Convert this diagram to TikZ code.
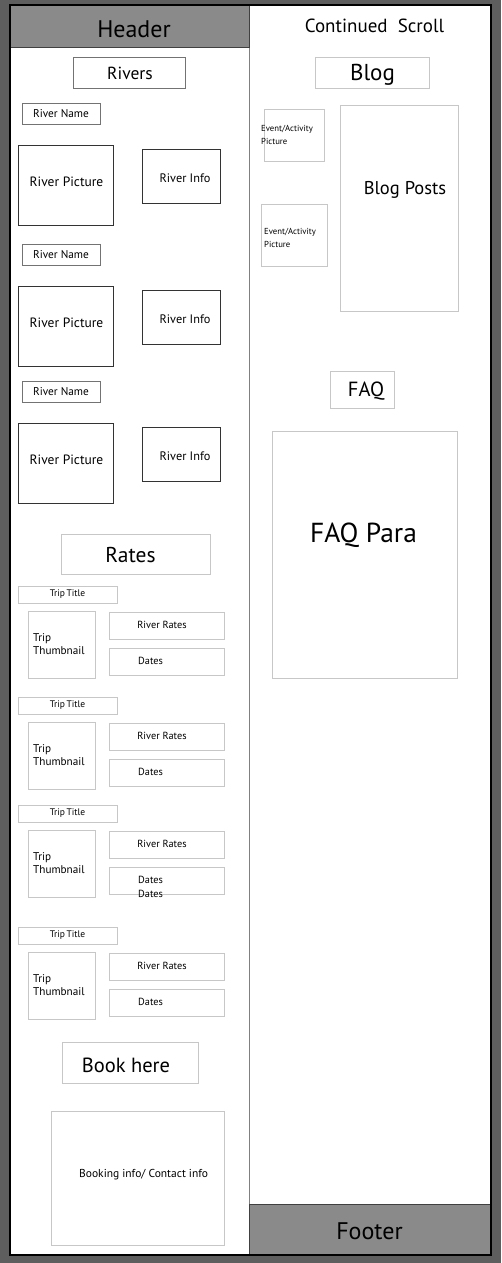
\documentclass[tikz,border=0pt]{standalone}
\usepackage{fontspec}
\setmainfont{PT Sans}
\begin{document}
\begin{tikzpicture}[x=1pt,y=-1pt,
  box/.style={draw, rectangle, inner sep=0pt, fill=white, line width=0.9pt, align=left},
  dk/.style={box, draw=black!80},
  md/.style={box, draw=black!55},
  lt/.style={box, draw=black!22},
  lbl/.style={inner sep=0pt, align=left},
  band/.style={fill=black!46, draw=black!75, line width=1pt},
]
\useasboundingbox (0,0) rectangle (501,1263);
% page background and sheet
\fill[black!63] (0,0) rectangle (501,1263);
\fill[white] (10,5) rectangle (491,1255);
% header and footer bands
\draw[band] (10,5) rectangle (249,48);
\node[lbl, font=\fontsize{24}{28}\selectfont] (header) at (134,29) {Header};
\draw[band] (249,1204) rectangle (491,1255);
\node[lbl, font=\fontsize{24}{28}\selectfont] (footer) at (369.5,1231) {Footer};
% column divider
\draw[black!50, line width=0.8pt] (249,48) -- (249,1204);
\draw[black, line width=1.4pt] (10,5) rectangle (491,1255);

% ---- left column: rivers
\node[md, minimum width=112pt, minimum height=31pt] (rivers) at (129,72.5) {};
\node[lbl, font=\fontsize{17.5}{20}\selectfont] (riverstxt) at (130,73) {Rivers};
\foreach \i/\dy in {1/0, 2/141, 3/278} {
  \node[md, minimum width=78pt, minimum height=21pt, font=\fontsize{11.3}{13}\selectfont] (rname\i) at (61,113.5+\dy) {River Name};
  \node[dk, minimum width=95pt, minimum height=80pt] (rpic\i) at (65.5,185+\dy) {};
  \node[lbl, font=\fontsize{13.5}{16}\selectfont] (rpictxt\i) at (66.5,182+\dy) {River Picture};
  \node[dk, minimum width=78pt, minimum height=54pt] (rinfo\i) at (181,176+\dy) {};
  \node[lbl, font=\fontsize{12.3}{14}\selectfont] (rinfotxt\i) at (185,178+\dy) {River Info};
}

% ---- left column: rates
\node[lt, minimum width=149pt, minimum height=40pt] (rates) at (135.5,554) {};
\node[lbl, font=\fontsize{21.5}{25}\selectfont] (ratestxt) at (130.5,555) {Rates};
\foreach \i/\dy in {1/0, 2/111, 3/219, 4/341} {
  \node[lt, minimum width=99pt, minimum height=17pt, font=\fontsize{9.5}{11}\selectfont] (ttitle\i) at (67.5,594.5+\dy) {Trip\,Title};
  \node[lt, minimum width=67pt, minimum height=67pt] (thumb\i) at (61.5,644.5+\dy) {};
  \node[lbl, anchor=west, font=\fontsize{11.2}{13.5}\selectfont] (thumbtxt\i) at (33,644+\dy) {Trip\\Thumbnail};
  \node[lt, minimum width=115pt, minimum height=27pt] (rrate\i) at (166.5,625.5+\dy) {};
  \node[lbl, font=\fontsize{10.3}{12}\selectfont] (rratetxt\i) at (162,625+\dy) {River Rates};
  \node[lt, minimum width=115pt, minimum height=27pt] (dates\i) at (166.5,661.5+\dy) {};
}
\foreach \i/\dy in {1/0, 2/111, 4/341}
  \node[lbl, anchor=west, font=\fontsize{10.3}{12}\selectfont] (datestxt\i) at (138,661+\dy) {Dates};
\node[lbl, anchor=west, font=\fontsize{10.3}{13.5}\selectfont] (datestxt3) at (138,887) {Dates\\Dates};

% ---- left column: booking
\node[lt, minimum width=136pt, minimum height=41pt] (book) at (130,1062.5) {};
\node[lbl, font=\fontsize{20.5}{24}\selectfont] (booktxt) at (126,1065) {Book here};
\node[lt, minimum width=173pt, minimum height=134pt] (bookinfo) at (137.5,1178) {};
\node[lbl, anchor=west, font=\fontsize{11.5}{13}\selectfont] (bookinfotxt) at (79,1175) {Booking info/ Contact info};

% ---- right column
\node[lbl, font=\fontsize{19}{22}\selectfont] (scroll) at (374.5,26) {Continued\ \ Scroll};
\node[lt, minimum width=114pt, minimum height=31pt] (blog) at (372,72.5) {};
\node[lbl, font=\fontsize{23}{27}\selectfont] (blogtxt) at (372.5,75) {Blog};
\node[lt, minimum width=60pt, minimum height=52pt] (event1) at (294,135) {};
\node[lbl, anchor=west, font=\fontsize{8.7}{13}\selectfont] (event1txt) at (261,135) {Event/Activity\\Picture};
\node[lt, minimum width=66pt, minimum height=62pt] (event2) at (294,235) {};
\node[lbl, anchor=west, font=\fontsize{8.7}{13}\selectfont] (event2txt) at (264,238) {Event/Activity\\Picture};
\node[lt, minimum width=118pt, minimum height=206pt] (posts) at (399,208) {};
\node[lbl, font=\fontsize{18.5}{22}\selectfont] (poststxt) at (405,190) {Blog Posts};
\node[lt, minimum width=64pt, minimum height=37pt] (faq) at (362,389.5) {};
\node[lbl, font=\fontsize{20.5}{24}\selectfont] (faqtxt) at (366,391) {FAQ};
\node[lt, minimum width=185pt, minimum height=247pt] (faqpara) at (364.5,554.5) {};
\node[lbl, font=\fontsize{27.5}{32}\selectfont] (faqparatxt) at (363.5,535) {FAQ Para};
\end{tikzpicture}
\end{document}
